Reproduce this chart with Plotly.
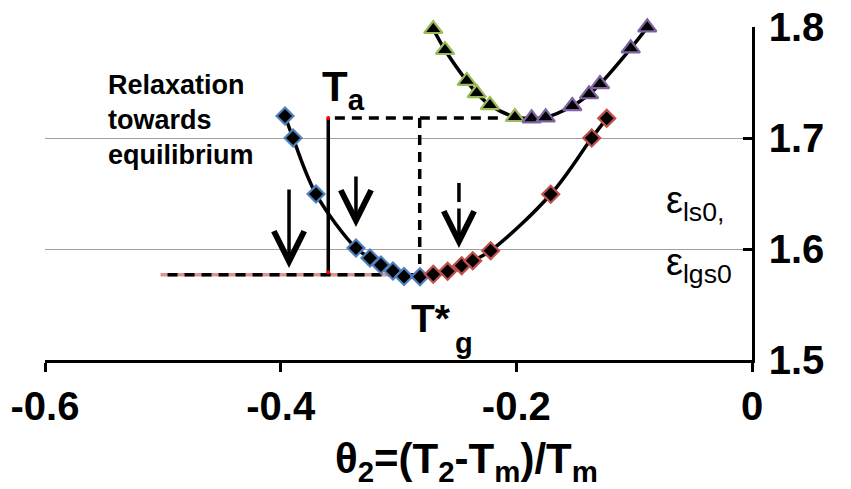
import plotly.graph_objects as go

# ---------------- data ----------------
blue_x = [-0.3963, -0.3895, -0.3700, -0.3361, -0.3242, -0.3149, -0.3047, -0.2953, -0.2818]
blue_y = [1.7198, 1.7000, 1.6495, 1.6009, 1.5919, 1.5856, 1.5802, 1.5752, 1.5750]

red_x = [-0.2705, -0.2583, -0.2464, -0.2370, -0.2218, -0.1708, -0.1360, -0.1233]
red_y = [1.5772, 1.5799, 1.5850, 1.5895, 1.5985, 1.6493, 1.7000, 1.7177]

green_x = [-0.2705, -0.2605, -0.2421, -0.2336, -0.2224, -0.2012]
green_y = [1.7982, 1.7793, 1.7514, 1.7405, 1.7297, 1.7189]

purple_x = [-0.1870, -0.1751, -0.1525, -0.1383, -0.1290, -0.1029, -0.0889]
purple_y = [1.7177, 1.7186, 1.7288, 1.7394, 1.7486, 1.7808, 1.7997]

# guide lines
pink_x = [-0.502, -0.271]
pink_y = [1.5768, 1.5768]
base_dash_x = [-0.496, -0.282]
base_dash_y = [1.5768, 1.5768]
ta_x = [-0.3596, -0.3596]
ta_y = [1.5790, 1.7180]
top_dash_x = [-0.3540, -0.2100]
top_dash_y = [1.7180, 1.7180]
tg_dash_x = [-0.2820, -0.2820]
tg_dash_y = [1.7180, 1.5790]

# arrows: (x, tail_y, tip_y)
arrow_x = [-0.3929, -0.3361, -0.2487]
arrow_tail = [1.6550, 1.6667, 1.6378]
arrow_tip = [1.5829, 1.6198, 1.6009]
dash_arrow_top = [1.6595, 1.6423]

x_ticks = [-0.6, -0.4, -0.2, 0]
x_ticktext = ["-0.6", "-0.4", "-0.2", "0"]
y_ticks = [1.5, 1.6, 1.7, 1.8]
y_ticktext = ["1.5", "1.6", "1.7", "1.8"]

FONT = "Liberation Sans"
BLUE = "#4F81BD"
RED = "#C0504D"
GREEN = "#9BBB59"
PURPLE = "#8064A2"
PINK = "#D99694"

fig = go.Figure()

DASH = "10px,7px"

# pink base line and black dashed overlay
fig.add_trace(go.Scatter(x=pink_x, y=pink_y, mode="lines",
                         line=dict(color=PINK, width=3.5), hoverinfo="skip"))
fig.add_trace(go.Scatter(x=base_dash_x, y=base_dash_y, mode="lines",
                         line=dict(color="black", width=3.5, dash=DASH), hoverinfo="skip"))
fig.add_trace(go.Scatter(x=top_dash_x, y=top_dash_y, mode="lines",
                         line=dict(color="black", width=3.5, dash=DASH), hoverinfo="skip"))
fig.add_trace(go.Scatter(x=tg_dash_x, y=tg_dash_y, mode="lines",
                         line=dict(color="black", width=3.5, dash=DASH), hoverinfo="skip"))
fig.add_trace(go.Scatter(x=ta_x, y=ta_y, mode="lines+markers",
                         line=dict(color="black", width=3.5),
                         marker=dict(color="red", size=4), hoverinfo="skip"))

# series lines
fig.add_trace(go.Scatter(x=blue_x, y=blue_y, mode="lines",
                         line=dict(color="black", width=3.5, shape="spline"), hoverinfo="skip"))
fig.add_trace(go.Scatter(x=red_x, y=red_y, mode="lines",
                         line=dict(color="black", width=3.5, shape="spline"), hoverinfo="skip"))
fig.add_trace(go.Scatter(x=green_x + purple_x, y=green_y + purple_y, mode="lines",
                         line=dict(color="black", width=3.5, shape="spline"), hoverinfo="skip"))

# markers
for xs, ys, col, sym, sz in [
    (blue_x, blue_y, BLUE, "diamond", 13),
    (red_x, red_y, RED, "diamond", 13),
    (green_x, green_y, GREEN, "triangle-up", 16),
    (purple_x, purple_y, PURPLE, "triangle-up", 16),
]:
    fig.add_trace(go.Scatter(x=xs, y=ys, mode="markers", cliponaxis=False,
                             marker=dict(symbol=sym, size=sz, color="black",
                                         line=dict(color=col, width=2.2))))

# dashed arrow upper dash
fig.add_trace(go.Scatter(x=[arrow_x[2], arrow_x[2]], y=dash_arrow_top, mode="lines",
                         line=dict(color="black", width=3.5), hoverinfo="skip"))

annotations = []
for ax_, t0, t1 in zip(arrow_x, arrow_tail, arrow_tip):
    annotations.append(dict(x=ax_, y=t1, ax=ax_, ay=t0, xref="x", yref="y",
                            axref="x", ayref="y", text="", showarrow=True,
                            arrowhead=5, arrowsize=1.7, arrowwidth=3.5,
                            arrowcolor="black", standoff=0))

bold = dict(family=FONT, color="black", weight="bold")
annotations += [
    dict(text="Relaxation<br>towards<br>equilibrium", xref="paper", yref="paper",
         x=(106 - 45) / 707, y=(360 - 68) / 333, xanchor="left", yanchor="top",
         align="left", showarrow=False, font=dict(size=27, **bold)),
    dict(text="T<sub>a</sub>", xref="paper", yref="paper",
         x=(320 - 45) / 707, y=(360 - 90) / 333, xanchor="left", yanchor="middle",
         showarrow=False, font=dict(size=42, **bold)),
    dict(text="T*", xref="paper", yref="paper",
         x=(409 - 45) / 707, y=(360 - 318) / 333, xanchor="left", yanchor="middle",
         showarrow=False, font=dict(size=39, **bold)),
    dict(text="g", xref="paper", yref="paper",
         x=(453 - 45) / 707, y=(360 - 343) / 333, xanchor="left", yanchor="middle",
         showarrow=False, font=dict(size=29, **bold)),
    dict(text="ε<sub>ls0,</sub>", xref="paper", yref="paper",
         x=(664 - 45) / 707, y=(360 - 203) / 333, xanchor="left", yanchor="middle",
         showarrow=False, font=dict(family=FONT, size=38, color="black")),
    dict(text="ε<sub>lgs0</sub>", xref="paper", yref="paper",
         x=(664 - 45) / 707, y=(360 - 265) / 333, xanchor="left", yanchor="middle",
         showarrow=False, font=dict(family=FONT, size=38, color="black")),
    dict(text="θ<sub>2</sub>=(T<sub>2</sub>-T<sub>m</sub>)/T<sub>m</sub>", xref="paper", yref="paper",
         x=(466 - 45) / 707, y=(360 - 461) / 333, xanchor="center", yanchor="middle",
         showarrow=False, font=dict(size=42, **bold)),
]

fig.update_layout(
    width=851, height=489,
    margin=dict(l=45, r=99, t=27, b=129),
    paper_bgcolor="white", plot_bgcolor="white",
    showlegend=False,
    annotations=annotations,
)
fig.update_xaxes(range=[-0.6, 0], tickvals=x_ticks, ticktext=x_ticktext, automargin=False,
                 showgrid=False, zeroline=False, showline=True, linecolor="black",
                 linewidth=2.5, ticks="outside", ticklen=9, tickwidth=2.5, tickcolor="black",
                 tickfont=dict(size=40, **bold))
fig.update_yaxes(range=[1.5, 1.8], side="right", tickvals=y_ticks, ticktext=y_ticktext,
                 automargin=False, ticklabelstandoff=6,
                 showgrid=True, gridcolor="#A0A0A0", gridwidth=1, zeroline=False,
                 showline=True, linecolor="black", linewidth=2.5, ticks="inside",
                 ticklen=9, tickwidth=2.5, tickcolor="black",
                 tickfont=dict(size=40, **bold))

fig.write_html("out.html", config={"displayModeBar": False},
               post_script="document.body.style.margin='0';document.body.style.overflow='hidden';")
